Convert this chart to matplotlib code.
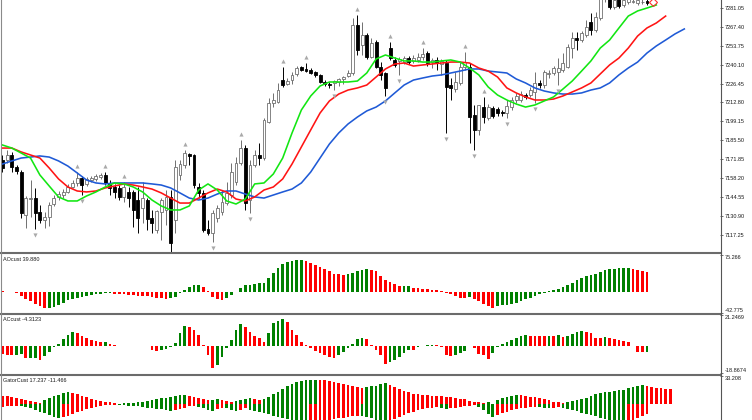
import numpy as np
import matplotlib
matplotlib.use("Agg")
import matplotlib.pyplot as plt
from matplotlib.lines import Line2D

# ---- price candles (one per bar) ----
opens = [7171.3, 7171.3, 7174.9, 7166.2, 7162.6, 7131.6, 7143.1, 7143.8, 7133.7, 7128.0,
         7130.1, 7139.5, 7144.6, 7146.0, 7148.2, 7151.8, 7154.7, 7158.3, 7154.0, 7156.8,
         7157.6, 7159.0, 7160.4, 7154.7, 7151.8, 7151.1, 7144.6, 7148.2, 7148.2, 7142.4,
         7136.6, 7142.4, 7129.4, 7120.7, 7133.7, 7135.2, 7144.6, 7128.0, 7160.4, 7167.7,
         7175.6, 7174.9, 7151.8, 7147.5, 7121.5, 7118.6, 7129.4, 7133.7, 7140.2, 7146.0,
         7155.4, 7169.1, 7180.0, 7142.4, 7167.7, 7174.9, 7172.7, 7198.8, 7212.4, 7213.2,
         7229.0, 7226.1, 7229.0, 7233.4, 7238.4, 7237.0, 7236.3, 7234.8, 7232.7, 7227.6,
         7226.1, 7226.9, 7227.6, 7229.8, 7231.9, 7234.1, 7268.8, 7254.3, 7261.5, 7245.6,
         7256.5, 7238.4, 7234.1, 7252.1, 7243.5, 7242.8, 7242.0, 7244.9, 7242.8, 7243.5,
         7245.6, 7248.5, 7242.0, 7243.5, 7240.6, 7241.3, 7225.4, 7222.5, 7226.9, 7238.4,
         7238.4, 7203.8, 7193.0, 7209.5, 7201.6, 7208.8, 7208.1, 7205.9, 7205.2, 7209.5,
         7214.6, 7214.6, 7218.2, 7218.2, 7220.4, 7226.9, 7225.4, 7233.4, 7234.1, 7234.8,
         7236.3, 7238.4, 7252.1, 7259.4, 7257.9, 7261.5, 7270.9, 7265.1, 7273.8, 7289.0,
         7289.0, 7281.7, 7288.2, 7283.2, 7285.4, 7285.4, 7284.6, 7285.4, 7286.1]
highs = [7174.9, 7178.5, 7177.1, 7167.7, 7164.1, 7145.3, 7156.8, 7151.1, 7138.8, 7133.7,
         7141.0, 7146.0, 7148.9, 7150.3, 7154.0, 7156.8, 7162.6, 7159.7, 7159.0, 7159.7,
         7161.2, 7161.9, 7162.6, 7156.8, 7154.0, 7153.2, 7155.4, 7151.8, 7149.6, 7151.8,
         7155.4, 7143.8, 7135.2, 7135.2, 7143.8, 7149.6, 7149.6, 7171.3, 7171.3, 7178.5,
         7176.3, 7175.6, 7154.7, 7149.6, 7128.0, 7135.2, 7138.8, 7149.6, 7155.4, 7169.1,
         7173.4, 7185.7, 7182.1, 7171.3, 7178.5, 7183.6, 7201.6, 7216.0, 7219.7, 7226.9,
         7238.4, 7230.5, 7234.8, 7239.1, 7239.1, 7241.3, 7237.7, 7235.5, 7233.4, 7229.0,
         7227.6, 7229.0, 7230.5, 7231.9, 7236.3, 7273.8, 7276.0, 7270.9, 7263.0, 7259.4,
         7257.9, 7242.0, 7234.8, 7256.5, 7245.6, 7245.6, 7246.4, 7246.4, 7247.1, 7248.5,
         7252.1, 7250.0, 7244.9, 7245.6, 7244.2, 7243.5, 7230.5, 7234.8, 7242.0, 7249.3,
         7241.3, 7211.0, 7211.0, 7216.8, 7211.7, 7210.3, 7209.5, 7207.4, 7214.6, 7216.8,
         7219.7, 7221.1, 7219.7, 7224.0, 7234.8, 7229.0, 7236.3, 7236.3, 7239.1, 7244.9,
         7248.5, 7255.0, 7263.7, 7263.7, 7264.4, 7272.4, 7277.4, 7278.2, 7297.6, 7304.8,
         7292.6, 7290.4, 7290.4, 7289.7, 7290.4, 7289.0, 7289.7, 7288.2, 7289.0]
lows = [7162.6, 7169.1, 7162.6, 7161.2, 7129.4, 7122.2, 7130.1, 7121.5, 7125.8, 7122.2,
        7123.6, 7138.1, 7142.4, 7143.8, 7147.5, 7151.1, 7152.5, 7146.0, 7152.5, 7155.4,
        7156.1, 7157.6, 7153.2, 7146.0, 7143.8, 7142.4, 7141.0, 7137.3, 7122.9, 7118.6,
        7125.8, 7120.7, 7118.6, 7118.6, 7113.5, 7124.4, 7102.0, 7118.6, 7156.8, 7165.5,
        7167.7, 7151.1, 7143.8, 7119.3, 7117.1, 7112.1, 7126.5, 7131.6, 7138.8, 7143.8,
        7153.2, 7167.7, 7135.2, 7133.0, 7166.2, 7167.7, 7171.3, 7198.0, 7209.5, 7212.4,
        7224.0, 7225.4, 7226.1, 7231.9, 7235.5, 7234.8, 7233.4, 7231.2, 7226.9, 7224.7,
        7223.3, 7221.8, 7224.7, 7226.1, 7231.2, 7232.7, 7247.1, 7247.1, 7244.2, 7244.9,
        7237.7, 7229.0, 7217.5, 7243.5, 7238.4, 7232.7, 7240.6, 7240.6, 7241.3, 7242.0,
        7243.5, 7239.1, 7237.7, 7236.3, 7232.7, 7190.8, 7214.6, 7220.4, 7225.4, 7236.3,
        7183.5, 7178.5, 7189.3, 7198.0, 7200.2, 7201.6, 7203.0, 7203.0, 7201.6, 7207.4,
        7212.4, 7213.2, 7215.3, 7216.8, 7212.4, 7223.3, 7223.3, 7230.5, 7232.7, 7225.4,
        7234.8, 7237.7, 7244.9, 7250.7, 7256.5, 7260.1, 7261.5, 7263.7, 7272.4, 7285.4,
        7280.3, 7280.3, 7281.0, 7281.7, 7283.9, 7284.6, 7283.2, 7283.9, 7283.2]
closes = [7165.5, 7174.9, 7166.2, 7163.3, 7133.0, 7143.8, 7143.8, 7133.0, 7128.0, 7130.1,
          7138.8, 7143.8, 7146.7, 7148.2, 7151.8, 7154.7, 7158.3, 7153.2, 7157.6, 7158.3,
          7159.7, 7160.4, 7154.7, 7151.1, 7148.2, 7144.6, 7151.8, 7143.8, 7135.2, 7129.4,
          7143.8, 7128.7, 7125.8, 7134.5, 7142.4, 7144.6, 7111.3, 7166.2, 7168.4, 7176.3,
          7174.2, 7153.2, 7147.5, 7120.7, 7118.6, 7133.0, 7136.6, 7141.0, 7147.5, 7162.6,
          7169.1, 7180.0, 7140.2, 7167.7, 7174.9, 7172.7, 7200.2, 7212.4, 7214.6, 7221.8,
          7225.4, 7228.3, 7232.7, 7237.7, 7236.3, 7235.5, 7234.1, 7232.7, 7227.6, 7226.1,
          7225.4, 7228.3, 7229.8, 7231.2, 7234.1, 7268.8, 7250.7, 7261.5, 7245.6, 7255.8,
          7238.4, 7232.7, 7223.3, 7244.9, 7239.9, 7244.2, 7244.9, 7242.0, 7244.9, 7245.6,
          7247.8, 7241.3, 7243.5, 7241.3, 7242.8, 7224.0, 7223.3, 7227.6, 7238.4, 7242.0,
          7202.3, 7193.0, 7211.0, 7202.3, 7209.5, 7203.0, 7205.2, 7205.2, 7210.3, 7214.6,
          7217.5, 7218.9, 7216.8, 7221.8, 7226.9, 7225.4, 7234.8, 7234.1, 7237.7, 7237.7,
          7241.3, 7252.9, 7259.4, 7257.9, 7263.0, 7267.3, 7265.1, 7274.5, 7294.0, 7301.2,
          7281.7, 7286.8, 7282.5, 7286.8, 7288.2, 7286.1, 7286.8, 7285.6, 7284.6]

fractal_up = [16, 22, 26, 39, 51, 60, 65, 76, 83, 90, 99, 103]
fractal_down = [7, 17, 36, 45, 53, 71, 82, 85, 95, 101, 108, 114, 119]
signal_bar, signal_price = 139.3, 7285.4

# ---- alligator lines, read every second bar (already shifted forward) ----
jaw = [7168.4, 7170.6, 7172.7, 7173.4, 7174.2, 7173.4, 7170.6, 7166.9, 7161.9, 7156.8,
       7154.7, 7154.0, 7154.7, 7154.7, 7154.7, 7154.7, 7154.0, 7153.2, 7151.1, 7147.5,
       7143.8, 7142.4, 7143.8, 7146.7, 7148.9, 7148.9, 7146.7, 7144.6, 7143.8, 7146.0,
       7148.2, 7150.3, 7154.7, 7162.6, 7172.7, 7182.8, 7190.8, 7197.3, 7202.3, 7206.7,
       7209.5, 7213.9, 7219.7, 7225.4, 7229.0, 7230.5, 7231.9, 7232.7, 7234.1, 7235.5,
       7237.0, 7237.0, 7235.5, 7234.8, 7234.1, 7229.8, 7226.9, 7223.3, 7221.1, 7219.7,
       7218.9, 7218.9, 7219.7, 7221.8, 7223.3, 7226.9, 7232.7, 7237.7, 7242.0, 7248.5,
       7253.6, 7257.9, 7262.3, 7265.9]
teeth = [7179.9, 7179.9, 7177.1, 7174.9, 7172.7, 7165.5, 7157.6, 7151.8, 7148.9, 7148.2,
         7148.9, 7151.1, 7152.5, 7154.0, 7153.2, 7151.8, 7150.3, 7147.5, 7143.8, 7140.2,
         7140.2, 7143.8, 7147.5, 7150.3, 7148.2, 7143.1, 7141.7, 7144.6, 7149.6, 7151.8,
         7157.6, 7168.4, 7180.7, 7193.0, 7205.2, 7213.9, 7218.9, 7221.8, 7223.3, 7225.4,
         7231.2, 7237.0, 7240.6, 7241.3, 7239.1, 7239.9, 7240.6, 7241.3, 7242.0, 7242.0,
         7241.3, 7237.7, 7235.5, 7231.2, 7223.3, 7219.7, 7216.8, 7214.6, 7214.6, 7215.3,
         7217.5, 7220.4, 7223.3, 7226.9, 7233.4, 7239.9, 7244.9, 7252.1, 7260.8, 7266.6,
         7270.2, 7275.2]
lips = [7182.1, 7179.9, 7176.3, 7172.7, 7160.5, 7152.5, 7144.6, 7141.7, 7141.7, 7145.3,
        7148.2, 7151.8, 7154.7, 7154.0, 7151.8, 7148.2, 7142.4, 7138.1, 7135.2, 7135.2,
        7138.1, 7149.6, 7154.0, 7149.6, 7141.7, 7139.5, 7143.1, 7154.0, 7154.7, 7161.2,
        7172.7, 7190.8, 7207.4, 7217.5, 7224.7, 7227.6, 7227.6, 7227.6, 7228.3, 7234.1,
        7244.2, 7247.1, 7244.9, 7242.8, 7242.8, 7242.0, 7242.0, 7242.8, 7243.5, 7242.0,
        7237.7, 7232.7, 7224.0, 7218.2, 7214.6, 7211.7, 7209.5, 7211.0, 7213.9, 7216.8,
        7222.5, 7228.3, 7235.5, 7242.8, 7252.1, 7257.9, 7266.6, 7275.2, 7278.9, 7281.0,
        7283.2]

# ---- oscillators ----
ao = [2.0, -0.5, -1.0, -3.0, -8.0, -13.5, -19.0, -24.0, -29.0, -32.5,
      -32.0, -31.0, -27.0, -21.7, -17.0, -13.5, -11.5, -10.0, -8.0, -6.8,
      -4.7, -3.4, -2.7, -2.0, -3.4, -4.0, -5.0, -6.0, -7.0, -7.5,
      -8.0, -9.0, -10.0, -11.5, -13.0, -14.0, -13.0, -10.0, -2.0, 3.4,
      10.2, 14.9, 15.0, 10.2, 2.0, -10.2, -14.9, -15.5, -11.5, -6.8,
      0.0, 8.1, 13.6, 14.9, 16.3, 17.6, 18.9, 29.2, 39.0, 49.0,
      56.0, 62.0, 64.0, 64.5, 64.6, 62.4, 59.7, 55.6, 50.9, 46.1,
      42.0, 37.3, 35.9, 35.0, 36.5, 39.3, 42.0, 44.8, 46.1, 45.4,
      42.0, 31.9, 25.1, 20.3, 15.6, 11.5, 12.0, 12.2, 8.1, 7.5,
      6.8, 5.4, 4.7, 3.4, 2.0, -2.0, -4.7, -8.8, -11.5, -11.8,
      -11.2, -13.6, -18.3, -23.7, -28.5, -31.9, -28.5, -27.1, -25.8, -23.7,
      -21.7, -18.3, -13.6, -11.5, -8.1, -4.7, -1.4, 1.4, 4.7, 6.8,
      10.2, 13.6, 18.3, 23.7, 29.2, 32.5, 35.3, 37.3, 40.7, 44.1,
      46.1, 47.5, 48.8, 49.0, 49.5, 47.5, 44.1, 42.0, 39.88]
ac = [-6.0, -6.3, -6.5, -6.2, -6.0, -8.8, -8.6, -8.2, -9.9, -6.9,
      -4.4, -0.9, 0.9, 4.6, 7.4, 9.2, 9.0, 7.0, 5.0, 4.0,
      3.5, 2.6, 2.8, 1.0, 0.2, -0.2, -0.5, -0.4, -0.2, -0.1,
      0.1, -0.5, -3.0, -3.7, -3.0, -2.3, -0.7, 1.6, 8.5, 13.8,
      13.0, 10.8, 7.4, 0.5, -6.5, -15.2, -13.4, -7.6, -1.8, 3.9,
      10.8, 15.0, 13.1, 9.2, 6.9, 5.1, 2.8, 8.5, 15.4, 17.1,
      18.4, 16.1, 10.8, 7.4, 2.3, 0.5, -1.8, -3.7, -4.8, -6.5,
      -7.6, -8.8, -6.5, -4.1, -1.8, 0.9, 4.6, 5.5, 4.6, 0.5,
      -3.2, -6.5, -12.9, -11.1, -9.9, -7.6, -5.3, -3.0, -3.2, -0.7,
      -0.2, 0.2, 0.4, 0.2, -0.7, -6.5, -6.9, -6.5, -5.3, -3.7,
      -0.5, -1.8, -6.0, -6.5, -9.2, -5.3, -0.7, 0.9, 2.8, 3.9,
      5.5, 6.7, 7.4, 6.9, 6.7, 6.6, 6.5, 6.7, 6.6, 7.4,
      6.2, 6.9, 7.8, 9.2, 10.1, 9.2, 8.5, 5.1, 5.0, 6.2,
      5.5, 4.6, 3.9, 3.5, 2.8, -0.3, -4.1, -4.6, -4.3123]
gator_up = [9.9, 9.1, 7.9, 6.7, 5.5, 4.3, 3.2, 2.4, 1.6, 4.3,
            6.7, 9.1, 11.1, 13.0, 14.2, 13.4, 11.5, 9.9, 7.9, 6.3,
            4.7, 3.6, 2.8, 2.0, 1.2, 0.4, 0.8, 1.2, 1.6, 2.0,
            2.8, 3.6, 4.3, 5.5, 6.7, 7.5, 8.3, 9.5, 10.3, 10.7,
            9.5, 8.3, 6.7, 5.5, 4.3, 4.7, 5.9, 5.1, 4.0, 2.8,
            3.6, 4.7, 5.9, 7.1, 5.9, 4.7, 6.3, 8.7, 11.5, 14.6,
            17.8, 20.9, 23.7, 26.1, 27.7, 28.4, 28.8, 28.9, 28.4, 28.0,
            27.3, 26.5, 25.3, 24.1, 22.9, 21.7, 20.5, 19.4, 20.0, 21.0,
            21.7, 23.3, 24.5, 22.5, 20.5, 17.8, 15.8, 13.8, 12.2, 11.5,
            10.7, 10.3, 9.9, 9.5, 9.1, 8.7, 7.9, 7.5, 6.3, 5.5,
            4.0, 2.8, 2.0, 1.2, 2.0, 0.4, 4.7, 6.7, 8.7, 9.9,
            10.7, 10.3, 9.5, 8.7, 7.9, 6.7, 5.5, 4.3, 2.8, 2.0,
            1.6, 2.4, 3.2, 4.3, 5.9, 7.5, 9.5, 11.5, 12.6, 13.8,
            14.6, 15.4, 16.2, 17.0, 18.6, 20.1, 21.7, 22.1, 20.9, 19.8,
            19.0, 18.6, 18.2, 17.237]
gator_down = [-3.2, -2.8, -2.8, -2.4, -2.8, -3.6, -4.7, -6.7, -9.1, -11.1,
              -13.4, -15.4, -16.6, -15.8, -13.8, -11.9, -9.9, -7.9, -5.9, -4.3,
              -3.2, -2.4, -1.6, -1.2, -0.8, -1.2, -1.6, -2.0, -2.4, -2.8,
              -3.6, -4.3, -5.1, -5.5, -6.3, -7.1, -7.9, -7.1, -5.9, -4.3,
              -2.8, -2.0, -3.2, -5.1, -7.1, -7.9, -5.9, -4.3, -5.1, -7.1,
              -8.3, -6.7, -5.1, -6.7, -7.9, -9.1, -10.7, -12.2, -13.8, -15.4,
              -17.0, -18.2, -19.4, -20.1, -20.9, -21.3, -20.9, -20.5, -20.1, -19.4,
              -18.6, -17.8, -17.0, -16.2, -15.4, -14.6, -13.8, -14.2, -15.4, -17.0,
              -18.6, -19.8, -20.5, -19.8, -17.8, -15.4, -13.0, -11.1, -9.1, -7.5,
              -6.3, -5.1, -4.3, -4.0, -4.7, -5.9, -5.1, -4.3, -3.6, -2.8,
              -2.0, -1.2, -3.2, -7.1, -12.2, -15.0, -13.0, -11.1, -9.1, -7.5,
              -6.3, -5.1, -4.3, -3.6, -3.2, -3.6, -4.3, -5.1, -4.3, -4.0,
              -4.7, -5.9, -7.1, -8.7, -10.3, -11.9, -13.0, -14.6, -16.2, -17.8,
              -19.4, -20.5, -21.3, -21.7, -20.9, -19.8, -16.5, -14.0, -11.466]

price_ticks = [7281.05, 7267.40, 7253.75, 7240.10, 7226.45, 7212.80, 7199.15,
               7185.50, 7171.85, 7158.20, 7144.55, 7130.90, 7117.25]
ao_range = (-42.775, 75.266)
ac_range = (-18.8674, 21.2469)
gator_range = (-33.2, 33.208)

GREEN = "#008000"
RED = "#ff0000"
TXT = "#1a1a1a"
FONT = "Liberation Sans"

W, H = 752, 420
fig = plt.figure(figsize=(W / 100, H / 100), dpi=100)
fig.patch.set_facecolor("white")
X_LIM = (-0.535, 153.64)


def panel(top, bottom):
    """axes placed by pixel rows, plot area 720 px wide"""
    ax = fig.add_axes([0, 1 - bottom / H, 720 / W, (bottom - top) / H])
    ax.set_xlim(*X_LIM)
    ax.set_xticks([])
    for s in ax.spines.values():
        s.set_visible(False)
    ax.yaxis.tick_right()
    ax.tick_params(axis="y", direction="out", length=2.5, width=0.6, color="#555555",
                   pad=1, labelsize=4, labelcolor=TXT)
    for lab in ax.get_yticklabels():
        lab.set_fontfamily(FONT)
    return ax


def colour_by_change(vals, use_abs=False):
    v = np.abs(vals) if use_abs else np.asarray(vals)
    cols = [RED]
    for a, b in zip(v[:-1], v[1:]):
        cols.append(GREEN if b > a else RED)
    return cols


def range_ticks(ax, lo, hi, labels):
    ax.set_ylim(lo, hi)
    ax.set_yticks([lo, hi])
    ax.set_yticklabels(labels, fontfamily=FONT)
    tl = ax.get_yticklabels()
    tl[0].set_va("bottom")
    tl[1].set_va("top")


# ---- main price panel ----
ax = panel(0, 252)
ax.set_ylim(7104.85, 7286.8)
ax.set_yticks(price_ticks)
ax.set_yticklabels([f"{p:.2f}" for p in price_ticks], fontfamily=FONT)

o, h, l, c = map(np.asarray, (opens, highs, lows, closes))
bars = np.arange(len(o))
bull = c >= o
edge = np.where(bull, "#707070", "#000000")
ax.vlines(bars, l, h, colors=edge, linewidth=0.7, zorder=2)
ax.bar(bars, np.maximum(np.abs(c - o), 0.3), bottom=np.minimum(o, c), width=0.62,
       color=np.where(bull, "white", "black"), edgecolor=edge, linewidth=0.6, zorder=3)

ax.plot(np.arange(len(jaw)) * 2, jaw, color="#1f5ad6", lw=1.15, zorder=4)
ax.plot(np.arange(len(teeth)) * 2, teeth, color="#ff1414", lw=1.15, zorder=4)
ax.plot(np.arange(len(lips)) * 2, lips, color="#12e612", lw=1.15, zorder=4)

fu, fd = np.array(fractal_up), np.array(fractal_down)
ax.scatter(fu, h[fu] + 4.3, marker="^", s=9, color="#a9a9a9", linewidths=0, zorder=5)
ax.scatter(fd, l[fd] - 4.3, marker="v", s=9, color="#a9a9a9", linewidths=0, zorder=5)
ax.plot(signal_bar, signal_price, marker="D", ms=4, mfc="none", mec="#ff3030", mew=0.8,
        zorder=5)

# ---- AO ----
ax_ao = panel(255, 313)
ax_ao.bar(np.arange(len(ao)), ao, width=0.58, color=colour_by_change(ao), linewidth=0)
range_ticks(ax_ao, *ao_range, ["-42.775", "75.266"])
fig.text(3 / W, 1 - 257 / H, "AOcust 39.880", fontsize=4, family=FONT, color=TXT, va="top")

# ---- AC ----
ax_ac = panel(315, 373)
ax_ac.bar(np.arange(len(ac)), ac, width=0.58, color=colour_by_change(ac), linewidth=0)
range_ticks(ax_ac, *ac_range, ["-18.8674", "21.2469"])
fig.text(3 / W, 1 - 317 / H, "ACcust -4.3123", fontsize=4, family=FONT, color=TXT, va="top")

# ---- Gator (panel runs past the bottom edge) ----
ax_g = panel(376, 432)
ax_g.bar(np.arange(len(gator_up)), gator_up, width=0.58,
         color=colour_by_change(gator_up, True), linewidth=0)
ax_g.bar(np.arange(len(gator_down)), gator_down, width=0.58,
         color=colour_by_change(gator_down, True), linewidth=0)
ax_g.set_ylim(*gator_range)
ax_g.set_yticks([gator_range[1]])
ax_g.set_yticklabels(["33.208"], fontfamily=FONT, va="top")
fig.text(3 / W, 1 - 378 / H, "GatorCust 17.237 -11.466", fontsize=4, family=FONT,
         color=TXT, va="top")

# ---- window frame: separators and borders ----
for y in (253.5, 314.0, 374.5):
    fig.add_artist(Line2D([0, 721 / W], [1 - y / H] * 2, color="#6b6b6b", lw=1.5))
fig.add_artist(Line2D([720.5 / W] * 2, [0, 1], color="#555555", lw=0.8))
fig.add_artist(Line2D([1 / W] * 2, [0, 1], color="#8a8a8a", lw=0.8))

fig.savefig("out.png", dpi=100, facecolor="white")
